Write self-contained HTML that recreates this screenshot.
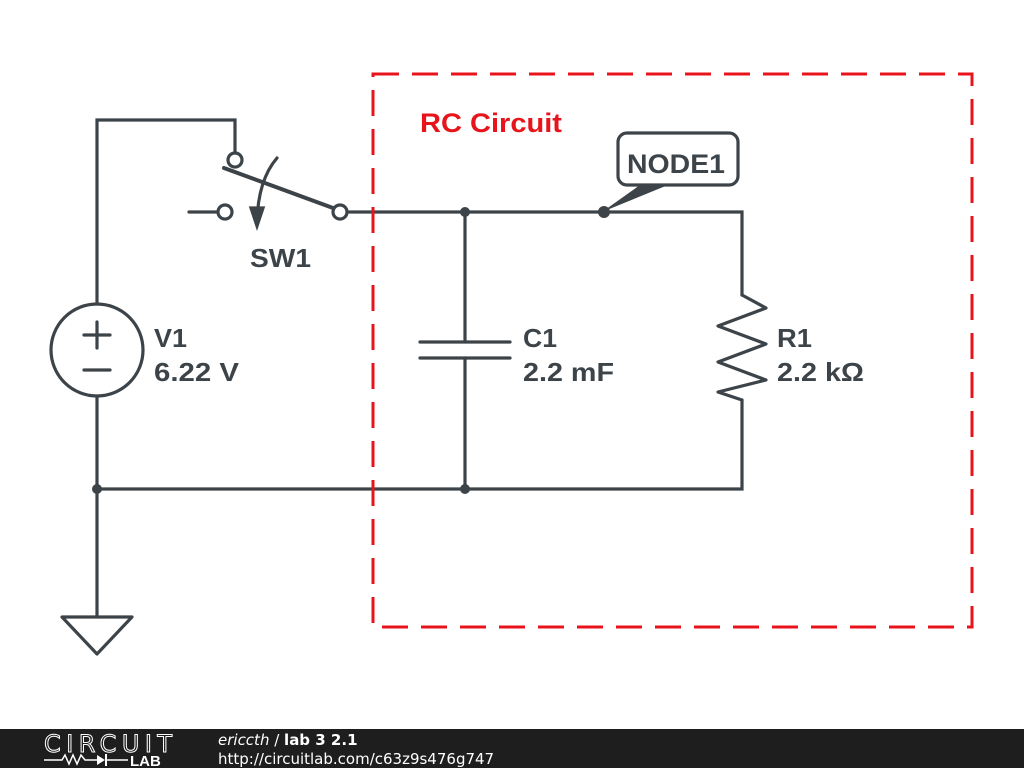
<!DOCTYPE html>
<html><head><style>
html,body{margin:0;padding:0;background:#fff;width:1024px;height:768px;overflow:hidden}
</style></head><body>
<svg width="1024" height="768" xmlns="http://www.w3.org/2000/svg" style="position:absolute;left:0;top:0">
<g stroke="#3d4449" stroke-width="3.2" fill="none" stroke-linecap="round">
<polyline points="97,304 97,120 235,120 235,153"/>
<line x1="97" y1="396" x2="97" y2="617"/>
<circle cx="97" cy="350" r="46"/>
<line x1="84" y1="335" x2="110" y2="335"/><line x1="97" y1="322" x2="97" y2="348"/>
<line x1="84" y1="370" x2="110" y2="370"/>
<polygon points="62,617 132,617 97,654" stroke-linejoin="round"/>
<polyline points="97,489 742,489 742,400"/>
<circle cx="235" cy="160" r="7"/>
<line x1="189" y1="212" x2="218" y2="212"/>
<circle cx="225" cy="212" r="7"/>
<circle cx="340" cy="212" r="7"/>
<line x1="224" y1="168" x2="333" y2="208" stroke-width="4"/>
<path d="M277,158 Q258,180 257,222"/>
<polygon points="251,208 263,208 257,226" fill="#3d4449"/>
<polyline points="347,212 742,212 742,295"/>
<polyline points="742,295 766,308 718,326 766,344 718,362 766,380 718,392 742,400" stroke-linejoin="round"/>
<line x1="465" y1="212" x2="465" y2="342"/>
<line x1="420" y1="342" x2="510" y2="342"/>
<line x1="420" y1="358" x2="510" y2="358"/>
<line x1="465" y1="358" x2="465" y2="489"/>
<rect x="618" y="133" width="120" height="52" rx="9" fill="#fff"/>
</g>
<polygon points="602,212 640,185 668,185" fill="#3d4449"/>
<g fill="#3d4449">
<circle cx="465" cy="212" r="5"/><circle cx="604" cy="212" r="6"/>
<circle cx="465" cy="489" r="5"/><circle cx="97" cy="489" r="5"/>
</g>
<rect x="373" y="74" width="599" height="553" fill="none" stroke="#e8141b" stroke-width="3" stroke-dasharray="26,13"/>
<g font-family="Liberation Sans, sans-serif" font-weight="bold" font-size="26" fill="#3d4449" lengthAdjust="spacingAndGlyphs">
<text x="420" y="132" fill="#e8141b" font-size="26.5" textLength="142" lengthAdjust="spacingAndGlyphs">RC Circuit</text>
<text x="627" y="173" font-size="27" textLength="98" lengthAdjust="spacingAndGlyphs">NODE1</text>
<text x="250" y="267" textLength="61" lengthAdjust="spacingAndGlyphs">SW1</text>
<text x="154" y="347" textLength="33" lengthAdjust="spacingAndGlyphs">V1</text><text x="154" y="381" textLength="85" lengthAdjust="spacingAndGlyphs">6.22 V</text>
<text x="523" y="347" textLength="34" lengthAdjust="spacingAndGlyphs">C1</text><text x="523" y="381" textLength="91" lengthAdjust="spacingAndGlyphs">2.2 mF</text>
<text x="777" y="347" textLength="35" lengthAdjust="spacingAndGlyphs">R1</text><text x="777" y="381" textLength="87" lengthAdjust="spacingAndGlyphs">2.2 kΩ</text>
</g>
<rect x="0" y="729" width="1024" height="39" fill="#1e1e1e"/>
<text x="44" y="752" font-family="DejaVu Sans, sans-serif" font-size="24" fill="none" stroke="#fff" stroke-width="1" textLength="128">CIRCUIT</text>
<polyline points="44,760 62,760 65,755 69,764 73,755 77,764 81,755 85,760 97,760" fill="none" stroke="#fff" stroke-width="1.5"/>
<polygon points="97,755 97,765 105,760" fill="#fff"/><line x1="106" y1="754" x2="106" y2="766" stroke="#fff" stroke-width="2"/>
<line x1="106" y1="760" x2="128" y2="760" stroke="#fff" stroke-width="1.5"/>
<text x="130" y="766" font-family="Liberation Sans, sans-serif" font-weight="bold" font-size="15" fill="#fff">LAB</text>
<text x="218" y="745" font-family="DejaVu Sans, sans-serif" font-size="15" fill="#fff"><tspan font-style="italic">ericcth</tspan> / <tspan font-weight="bold">lab 3 2.1</tspan></text>
<text x="218" y="764" font-family="DejaVu Sans, sans-serif" font-size="15" fill="#fff">http://circuitlab.com/c63z9s476g747</text>
</svg>
</body></html>
